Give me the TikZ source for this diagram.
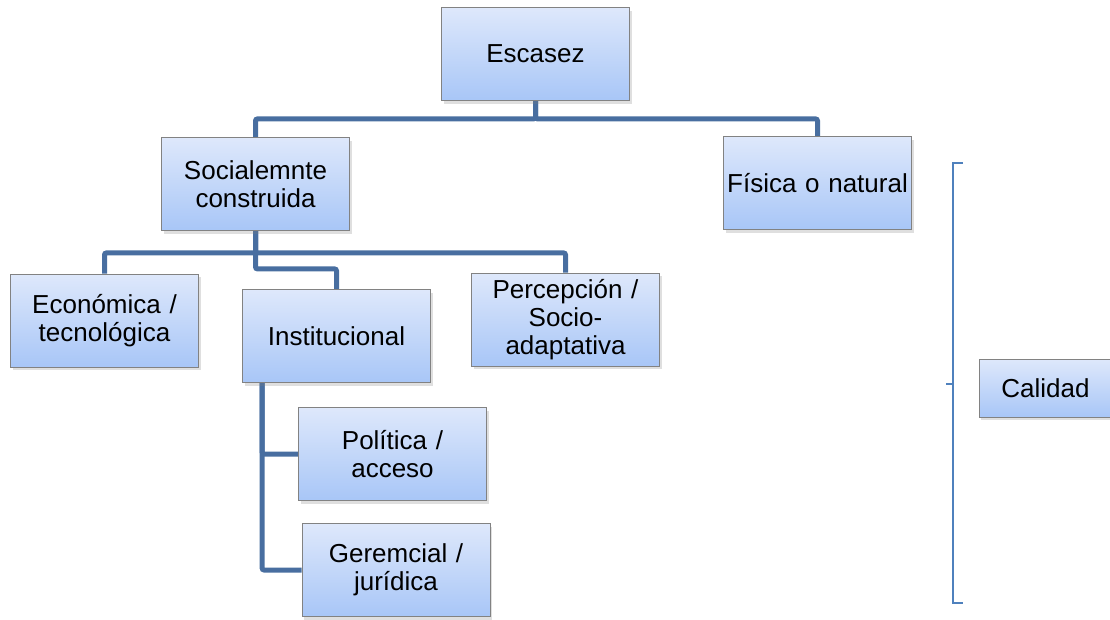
\documentclass[tikz,border=0pt]{standalone}
\usepackage{fontspec}
\setmainfont{Liberation Sans}
\usetikzlibrary{shadows,backgrounds}
\definecolor{boxtop}{RGB}{222,232,251}
\definecolor{boxbot}{RGB}{168,198,247}
\definecolor{boxline}{RGB}{130,130,130}
\definecolor{connc}{RGB}{72,110,160}
\definecolor{bracec}{RGB}{79,129,189}
\tikzset{
  box/.style={draw=boxline, line width=0.8pt, top color=boxtop, bottom color=boxbot,
    inner sep=0pt, align=center, minimum width=188pt, minimum height=93pt,
    text width=186pt, font=\fontsize{26}{28}\selectfont,
    drop shadow={opacity=0.25, shadow xshift=2pt, shadow yshift=-3pt}},
  conn/.style={draw=connc, line width=5pt, rounded corners=2pt},
  bracket/.style={draw=bracec, line width=1.3pt}
}
\begin{document}
\begin{tikzpicture}[x=1pt,y=-1pt]
\useasboundingbox (0,0) rectangle (1110,619);
\node[box] (esc) at (535.5,54) {Escasez};
\node[box] (soc) at (255.5,184) {Socialemnte\\construida};
\node[box] (fis) at (817.5,183) {Física o natural};
\node[box] (eco) at (104.5,320.5) {Económica /\\tecnológica};
\node[box] (ins) at (336.5,336) {Institucional};
\node[box] (per) at (565.5,319.5) {Percepción /\\Socio-\\adaptativa};
\node[box] (pol) at (392.5,454) {Política /\\acceso};
\node[box] (ger) at (396,570) {Geremcial /\\jurídica};
\node[box, minimum width=133pt, text width=131pt, minimum height=58pt] (cal) at (1045.5,388) {Calidad};
\begin{scope}[on background layer]
\draw[conn] (esc.south) -- ++(0,18) -| (soc.north);
\draw[conn] (esc.south) -- ++(0,18) -| (fis.north);
\draw[conn] (soc.south) -- ++(0,22) -| (eco.north);
\draw[conn] (soc.south) -- ++(0,22) -| (per.north);
\draw[conn] (soc.south) -- ++(0,38) -| (ins.north);
\draw[conn] ([xshift=20pt]ins.south west) |- (pol.west);
\draw[conn] ([xshift=20pt]ins.south west) |- (ger.west);
\end{scope}
\coordinate (bt) at (963,163);
\coordinate (bb) at (963,603);
\coordinate (bm) at (946,384);
\draw[bracket] (bt) -- (953,163) -- (953,603) -- (bb);
\draw[bracket] (bm) -- (953,384);
\end{tikzpicture}
\end{document}
